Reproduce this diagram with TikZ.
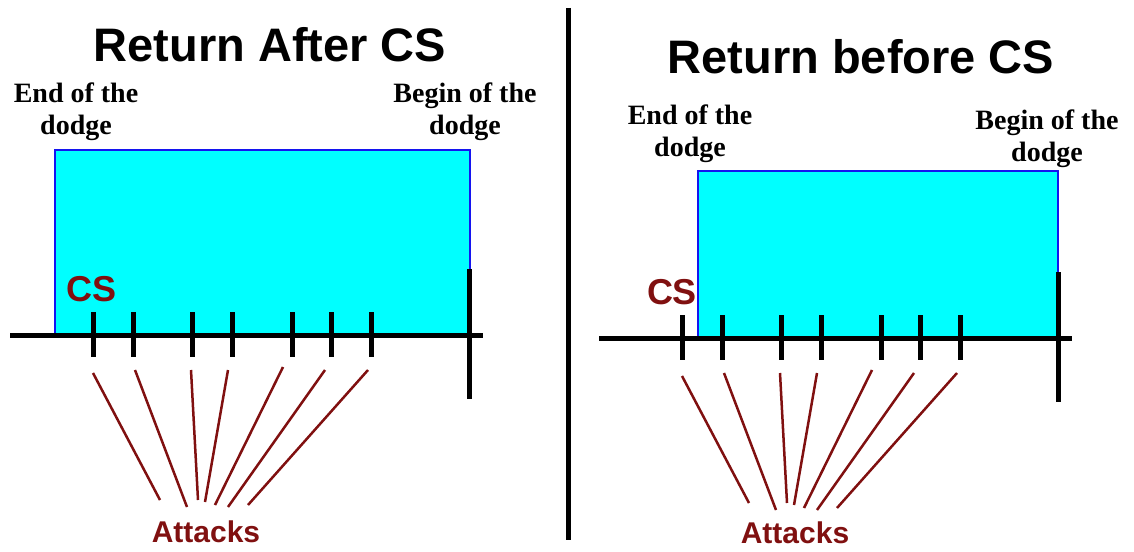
\documentclass[tikz,border=0pt]{standalone}
\usepackage{fontspec}
\setmainfont{Liberation Sans}
\newfontfamily\dodgefont{Liberation Serif}
\usetikzlibrary{positioning}
\definecolor{attackred}{RGB}{128,16,16}
\definecolor{dodgecyan}{RGB}{0,255,255}
\definecolor{dodgeblue}{RGB}{20,20,240}

\begin{document}
\begin{tikzpicture}[
  x=1pt, y=-1pt,
  title/.style={font=\fontsize{47}{50}\selectfont\bfseries, inner sep=0pt},
  dodgelbl/.style={font=\dodgefont\fontsize{28}{32}\selectfont\bfseries, align=center, inner sep=0pt},
  cslbl/.style={text=attackred, font=\fontsize{36}{40}\selectfont\bfseries, inner sep=0pt},
  attlbl/.style={text=attackred, font=\fontsize{30}{34}\selectfont\bfseries, inner sep=0pt},
  dodgebox/.style={fill=dodgecyan, draw=dodgeblue, line width=2pt},
  timeline/.style={line width=5pt},
  attackline/.style={draw=attackred, line width=2.5pt}
]
\useasboundingbox (0,0) rectangle (1134,551);

% dodge windows
\draw[dodgebox] (55,150) rectangle (470,335);
\draw[dodgebox] (698,171) rectangle (1058,338);

% titles and labels
\node[title] (titleA) at (270,45) {Return After CS};
\node[title] (titleB) at (861,57) {Return before CS};
\node[dodgelbl] (endA) at (76,112) {End of the\\dodge};
\node[dodgelbl] (beginA) at (465,112) {Begin of the\\dodge};
\node[dodgelbl] (endB) at (690,134) {End of the\\dodge};
\node[dodgelbl] (beginB) at (1047,139) {Begin of the\\dodge};
\node[cslbl] (csA) at (92,289) {CS};
\node[cslbl] (csB) at (672,292) {CS};
\node[attlbl] (attA) at (206,532) {Attacks};
\node[attlbl] (attB) at (795,533) {Attacks};

% time axis, hits and attacks
\foreach \p/\dx/\dy in {A/0/0, B/589/3} {
  \begin{scope}[shift={(\dx,\dy)}]
    \draw[timeline] (10,335) -- (483,335);
    \draw[timeline] (469,269) -- (469,399);
    \foreach \tx in {93,133,192,232,292,331,371}
      \draw[timeline] (\tx,312) -- (\tx,357);
    \foreach \i/\sx/\sy/\ex/\ey in {1/93/373/160/500, 2/135/370/187/507,
        3/191/370/198/500, 4/228/370/205/502, 5/283/367/215/505,
        6/325/370/228/507, 7/368/370/248/505} {
      \coordinate (s\p\i) at (\sx,\sy);
      \coordinate (e\p\i) at (\ex,\ey);
      \draw[attackline] (s\p\i) -- (e\p\i);
    }
  \end{scope}
}

% divider
\draw[line width=5pt] (568,8) -- (568,540);
\end{tikzpicture}
\end{document}
